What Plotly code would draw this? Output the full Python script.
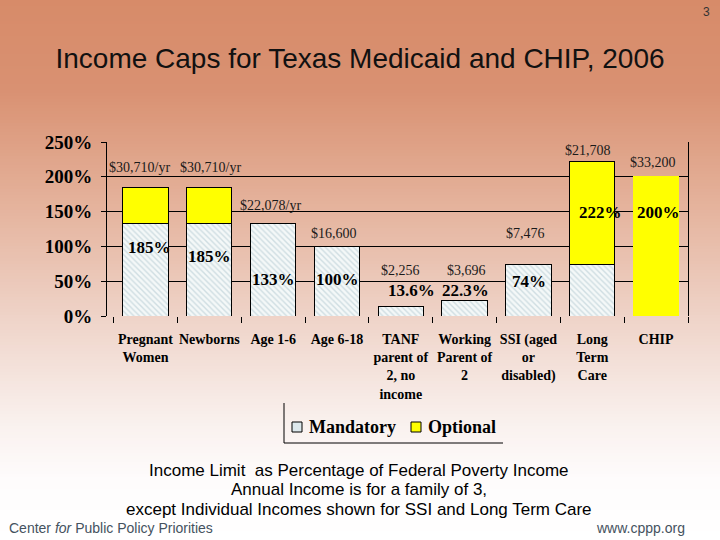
import plotly.graph_objects as go

# ---------------- data ----------------
categories = ["Pregnant<br>Women", "Newborns", "Age 1-6", "Age 6-18",
              "TANF<br>parent of<br>2, no<br>income", "Working<br>Parent of<br>2",
              "SSI (aged<br>or<br>disabled)", "Long<br>Term<br>Care", "CHIP"]
mandatory = [133, 133, 133, 100, 13.6, 22.3, 74, 74, 0]
optional = [52, 52, 0, 0, 0, 0, 0, 148, 200]
cap_pct = [185, 185, 133, 100, 13.6, 22.3, 74, 222, 200]
income_labels = ["$30,710/yr", "$30,710/yr", "$22,078/yr", "$16,600", "$2,256",
                 "$3,696", "$7,476", "$21,708", "$33,200"]
series_names = ["Mandatory", "Optional"]
y_ticks = [0, 50, 100, 150, 200, 250]

# ---------------- layout helpers (styling / placement) ----------------
W, H = 720, 540
L, R, T, B = 107, 688, 142, 316          # plot area in pixels
def px_x(x):
    return (x - L) / (R - L)
def px_y(y):
    return (B - y) / (B - T)

pct_label_y = [98, 86, 53, 53, 36, 36, 50, 148, 148]
pct_label_dx = [4, 0, 0, 1, 11, 1, 1, 8, 2]
inc_label_y = [213, 213, 159, 118, 65, 65, 118, 238, 221]
inc_label_dx = [-6, 1, -3, -3, 0, 2, -3, -4, -3]

serif = "Liberation Serif, Times New Roman, serif"
sans = "Liberation Sans, Arial, sans-serif"
mand_color = "#f4f8f8"
opt_color = "#ffff00"

fig = go.Figure()
fig.add_trace(go.Bar(
    x=categories, y=mandatory, name=series_names[0], showlegend=False,
    marker=dict(color="white",
                pattern=dict(shape="\\", fgcolor="#a9c2cc", bgcolor=mand_color,
                             size=4, solidity=0.35),
                line=dict(color="black", width=1)),
))
fig.add_trace(go.Bar(
    x=categories, y=optional, name=series_names[1], showlegend=False,
    marker=dict(color=opt_color,
                line=dict(color=["black"] * 8 + [opt_color], width=1)),
))

# ---------------- gradient background ----------------
stops = [(0, (215, 139, 105)), (90, (217, 145, 114)), (200, (228, 177, 154)),
         (320, (239, 212, 201)), (420, (249, 240, 237)), (480, (254, 252, 252)),
         (540, (255, 255, 255))]
def grad(y):
    for (y0, c0), (y1, c1) in zip(stops[:-1], stops[1:]):
        if y0 <= y <= y1:
            t = (y - y0) / (y1 - y0)
            return "rgb(%d,%d,%d)" % tuple(round(a + (b - a) * t) for a, b in zip(c0, c1))
    return "white"

shapes = []
step = 3
for y in range(0, H, step):
    shapes.append(dict(type="rect", xref="paper", yref="paper",
                       x0=px_x(-2), x1=px_x(W + 2), y0=px_y(y + step + 3), y1=px_y(y),
                       fillcolor=grad(y + step / 2), line=dict(width=0), layer="below"))
# legend border (left + bottom)
shapes.append(dict(type="line", xref="paper", yref="paper",
                   x0=px_x(284), x1=px_x(284), y0=px_y(403), y1=px_y(443),
                   line=dict(color="black", width=1)))
shapes.append(dict(type="line", xref="paper", yref="paper",
                   x0=px_x(284), x1=px_x(503), y0=px_y(443), y1=px_y(443),
                   line=dict(color="black", width=1)))
# legend swatches
for x0, col in zip([292, 411], ["#dde8ec", opt_color]):
    shapes.append(dict(type="rect", xref="paper", yref="paper",
                       x0=px_x(x0), x1=px_x(x0 + 10), y0=px_y(432), y1=px_y(422),
                       fillcolor=col, line=dict(color="black", width=1)))

annotations = []
for i, c in enumerate(categories):
    annotations.append(dict(x=c, y=pct_label_y[i], xref="x", yref="y",
                            text="<b>%g%%</b>" % cap_pct[i], showarrow=False,
                            xshift=pct_label_dx[i],
                            font=dict(family=serif, size=17, color="black")))
    annotations.append(dict(x=c, y=inc_label_y[i], xref="x", yref="y",
                            text=income_labels[i], showarrow=False,
                            xshift=inc_label_dx[i],
                            font=dict(family=serif, size=14, color="#1a1a1a")))

for name, xx in zip(series_names, [307, 426]):
    annotations.append(dict(x=px_x(xx), y=px_y(427), xref="paper", yref="paper",
                            text="<b>%s</b>" % name, showarrow=False,
                            xanchor="left", yanchor="middle",
                            font=dict(family=serif, size=18, color="black")))

bottom_lines = ["Income Limit\u00a0 as Percentage of Federal Poverty Income",
                "Annual Income is for a family of 3,",
                "except Individual Incomes shown for SSI and Long Term Care"]
for txt, yy in zip(bottom_lines, [470, 489, 509]):
    annotations.append(dict(x=px_x(359), y=px_y(yy), xref="paper", yref="paper",
                            text=txt, showarrow=False, xanchor="center", yanchor="middle",
                            font=dict(family=sans, size=17, color="black")))
annotations.append(dict(x=px_x(7), y=px_y(528), xref="paper", yref="paper",
                        text="Center <i>for</i> Public Policy Priorities", showarrow=False,
                        xanchor="left", yanchor="middle",
                        font=dict(family=sans, size=14, color="#45525e")))
annotations.append(dict(x=px_x(687), y=px_y(528), xref="paper", yref="paper",
                        text="www.cppp.org", showarrow=False,
                        xanchor="right", yanchor="middle",
                        font=dict(family=sans, size=14, color="#45525e")))
annotations.append(dict(x=px_x(712), y=px_y(12), xref="paper", yref="paper",
                        text="3", showarrow=False, xanchor="right", yanchor="middle",
                        font=dict(family=sans, size=12, color="#333333")))

fig.update_layout(
    width=W, height=H,
    margin=dict(l=L, r=W - R, t=T, b=H - B, pad=0, autoexpand=False),
    paper_bgcolor="white", plot_bgcolor="rgba(0,0,0,0)",
    barmode="stack", bargap=0.29,
    title=dict(text="Income Caps for Texas Medicaid and CHIP, 2006",
               x=0.5, xanchor="center", y=1 - 58 / H, yanchor="middle",
               xref="container", yref="container",
               font=dict(family=sans, size=28, color="#111111")),
    showlegend=False,
    shapes=shapes, annotations=annotations,
    xaxis=dict(tickson="boundaries", ticks="outside", ticklen=6, tickcolor="black",
               showline=False, showgrid=False, zeroline=False, automargin=False,
               tickfont=dict(family=serif, size=14, color="black"),
               tickangle=0, ticklabelstandoff=13),
    yaxis=dict(range=[0, 250], tickvals=y_ticks,
               ticktext=["<b>%d%%</b>" % v for v in y_ticks],
               ticks="outside", ticklen=5, tickcolor="black",
               showline=True, linecolor="black", linewidth=1, mirror=True,
               showgrid=True, gridcolor="black", gridwidth=1, zeroline=False,
               automargin=False, ticklabelstandoff=5,
               tickfont=dict(family=serif, size=19, color="black")),
)
fig.update_xaxes(tickprefix="<b>", ticksuffix="</b>")

fig.write_html("out.html", config={"displayModeBar": False},
               post_script="document.body.style.margin='0';document.body.style.overflow='hidden';")
